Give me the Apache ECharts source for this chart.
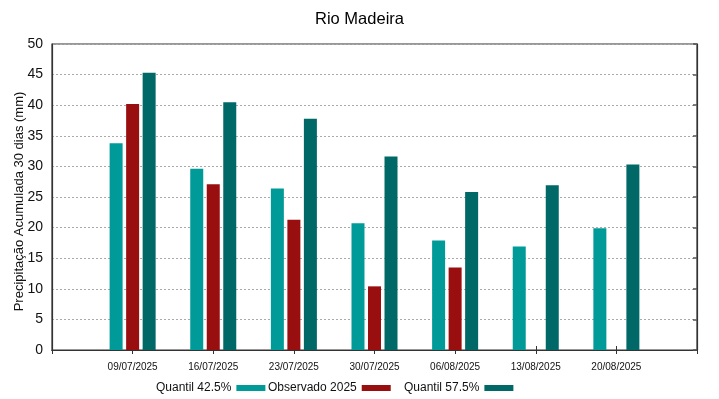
<!DOCTYPE html>
<html>
<head>
<meta charset="utf-8">
<title>Rio Madeira</title>
<script src="https://cdn.jsdelivr.net/npm/echarts@6/dist/echarts.min.js"></script>
<style>
html,body{margin:0;padding:0;background:#fff;}
#main{width:719px;height:399px;}
</style>
</head>
<body>
<div id="main"></div>
<script>
// dados
var datas = ['09/07/2025','16/07/2025','23/07/2025','30/07/2025','06/08/2025','13/08/2025','20/08/2025'];
var quantil425 = [33.8, 29.6, 26.4, 20.7, 17.9, 16.9, 19.9];
var observado = [40.2, 27.1, 21.3, 10.4, 13.5, null, null];
var quantil575 = [45.3, 40.5, 37.8, 31.6, 25.8, 26.9, 30.3];
var yTicks = [0, 5, 10, 15, 20, 25, 30, 35, 40, 45, 50];

var fonte = "'Liberation Sans', Arial, sans-serif";

// uma posicao vazia em cada ponta, como no grafico original
function pad(arr){
	return [null].concat(arr).concat([null]);
}
var categorias = pad(datas).map(function(d){ return d == null ? '' : d; });

var myChart = echarts.init(document.getElementById('main'));

function legenda(nome, x){
	return {
		data: [nome],
		left: x,
		top: 382,
		padding: 0,
		align: 'right',
		icon: 'rect',
		itemWidth: 29,
		itemHeight: 6,
		selectedMode: false,
		textStyle: {fontFamily: fonte, fontSize: 12, color: '#111'}
	};
}

option = {
	animation: false,
	title: {
		text: 'Rio Madeira',
		left: 'center',
		top: 6,
		textStyle: {fontFamily: fonte, fontSize: 16.5, fontWeight: 'normal', color: '#000'}
	},
	legend: [
		legenda('Quantil 42.5%', 156),
		legenda('Observado 2025', 268),
		legenda('Quantil 57.5%', 404)
	],
	grid: {left: 52, right: 22, top: 44, bottom: 49, outerBoundsMode: 'none', show: true, borderColor: '#333', borderWidth: 1.2},
	xAxis: [{
		type: 'category',
		data: categorias,
		boundaryGap: false,
		axisLine: {show: true, lineStyle: {color: '#333', width: 1.2}},
		axisTick: {show: true, inside: true, length: 4, lineStyle: {color: '#333'}},
		axisLabel: {fontFamily: fonte, fontSize: 10, color: '#111', margin: 12, interval: 0},
		splitLine: {show: false}
	}, {
		type: 'category',
		data: categorias,
		position: 'top',
		boundaryGap: false,
		axisLine: {show: true, lineStyle: {color: '#333', width: 1.2}},
		axisTick: {show: true, inside: true, length: 4, lineStyle: {color: '#333'}},
		axisLabel: {show: false}
	}],
	yAxis: [{
		type: 'value',
		min: yTicks[0],
		max: yTicks[yTicks.length - 1],
		interval: 5,
		name: 'Precipitação Acumulada 30 dias (mm)',
		nameLocation: 'middle',
		nameGap: 26,
		nameMoveOverlap: false,
		nameTextStyle: {fontFamily: fonte, fontSize: 13, color: '#111', padding: [0, 9, 0, 0]},
		axisLine: {show: true, lineStyle: {color: '#333', width: 1.2}},
		axisTick: {show: false},
		axisLabel: {fontFamily: fonte, fontSize: 14, color: '#111', margin: 9},
		splitLine: {show: true, lineStyle: {color: '#aaa', width: 1, type: [2, 2]}}
	}, {
		type: 'value',
		min: yTicks[0],
		max: yTicks[yTicks.length - 1],
		interval: 5,
		position: 'right',
		axisLine: {show: true, lineStyle: {color: '#333', width: 1.2}},
		axisTick: {show: true, inside: true, length: 4, lineStyle: {color: '#555', width: 1.5}},
		axisLabel: {show: false},
		splitLine: {show: false}
	}],
	series: [
		{
			name: 'Quantil 42.5%',
			type: 'bar',
			data: pad(quantil425),
			barWidth: 13,
			barGap: '27%',
			itemStyle: {color: '#009b98'}
		},
		{
			name: 'Observado 2025',
			type: 'bar',
			data: pad(observado),
			barWidth: 13,
			barGap: '27%',
			itemStyle: {color: '#990f0f'}
		},
		{
			name: 'Quantil 57.5%',
			type: 'bar',
			data: pad(quantil575),
			barWidth: 13,
			barGap: '27%',
			itemStyle: {color: '#006866'}
		}
	]
};
myChart.setOption(option);
</script>
</body>
</html>
